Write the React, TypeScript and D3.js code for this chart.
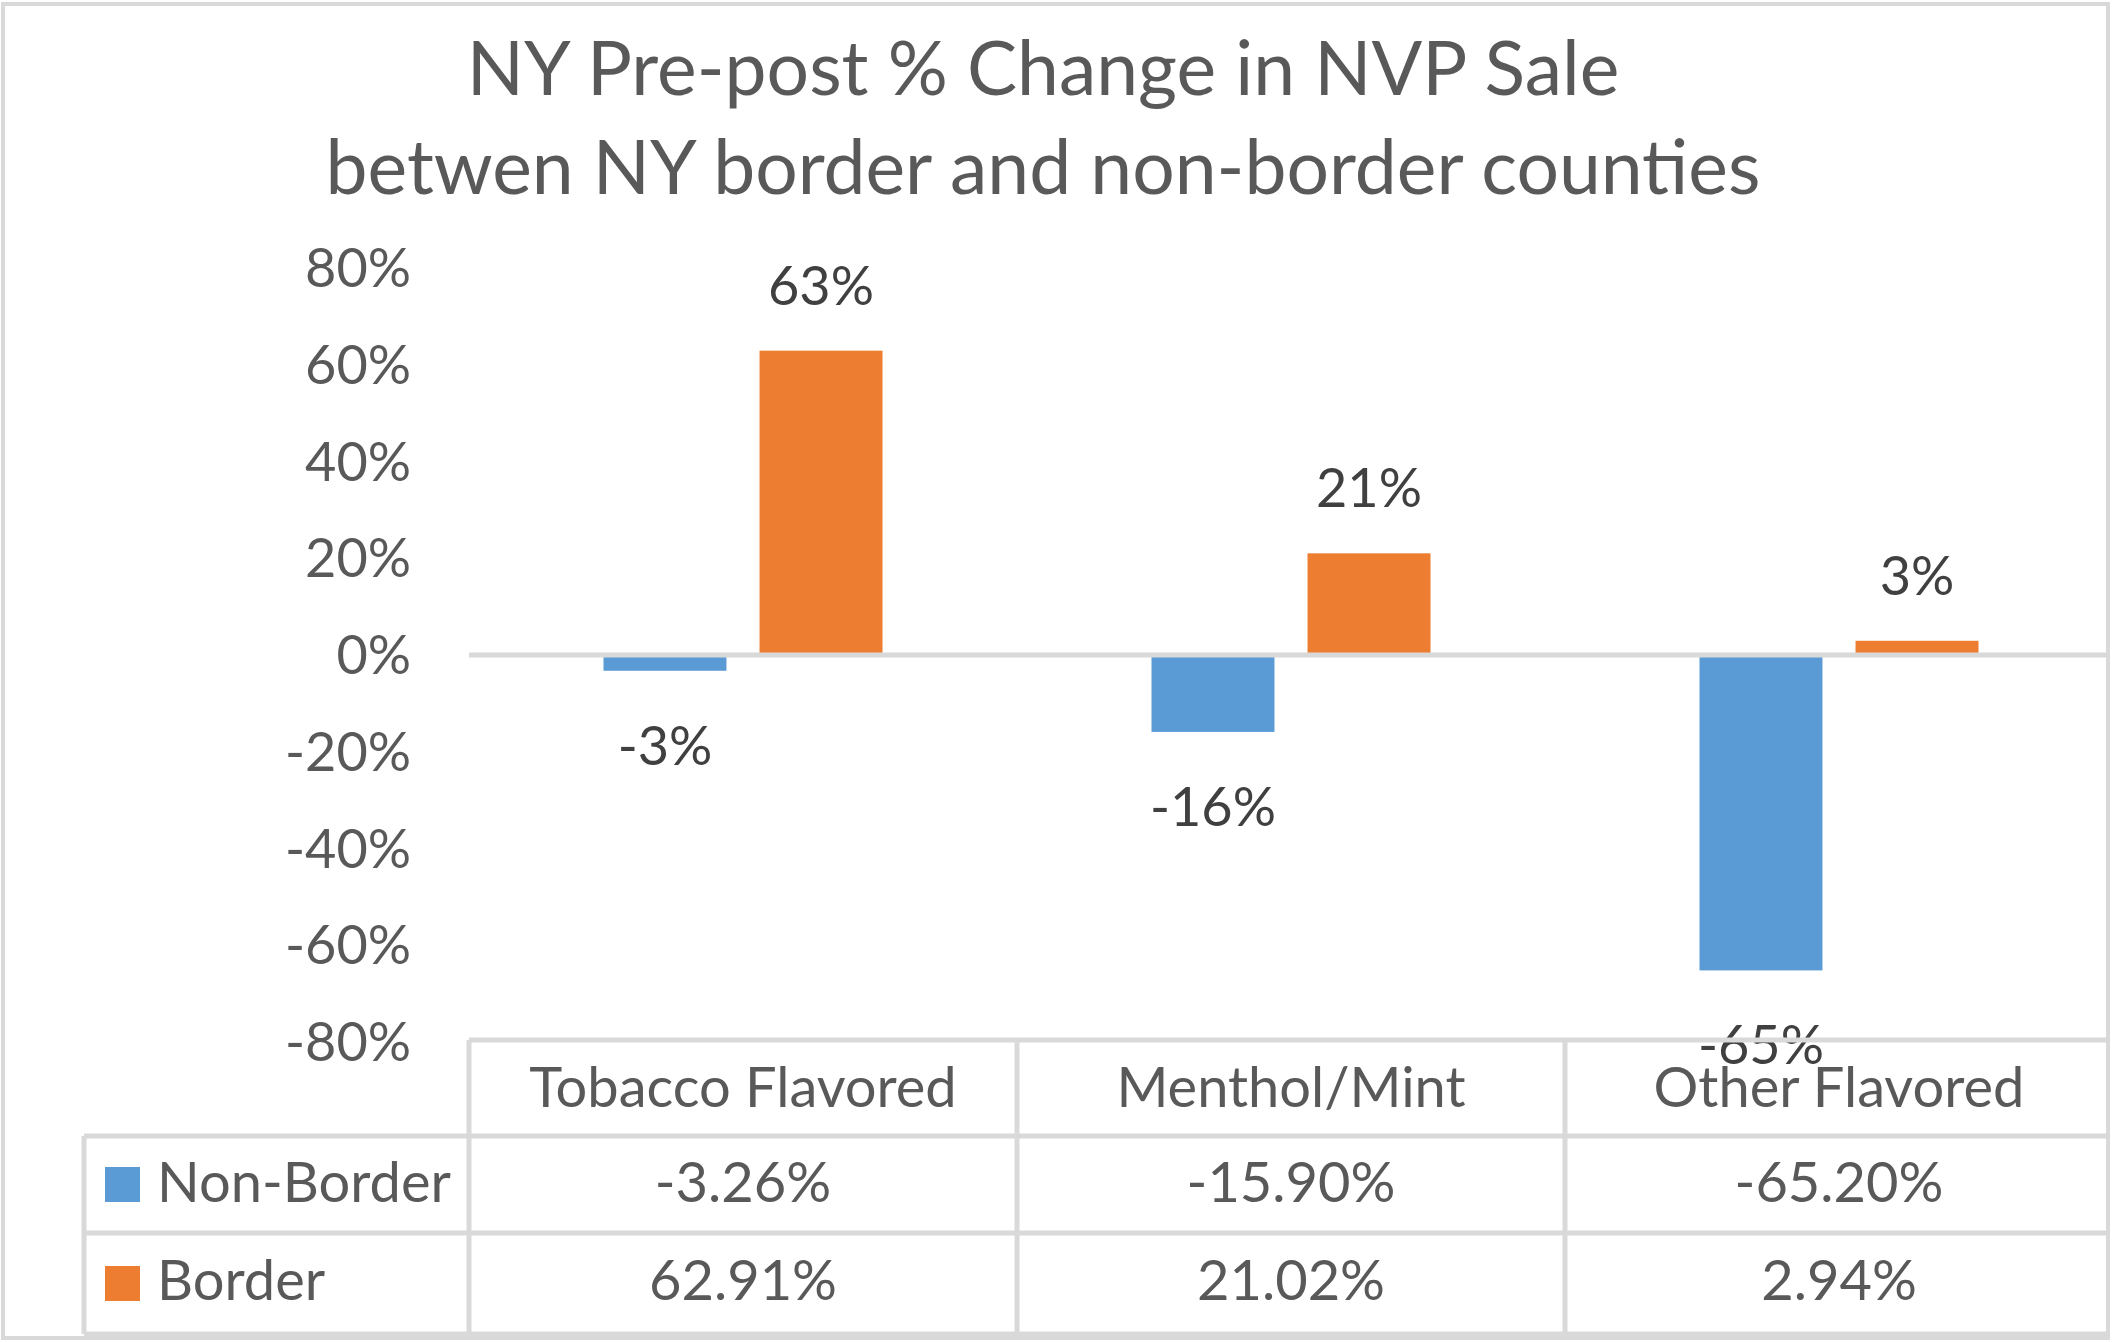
import React from "react";
import * as d3 from "d3";

const categories = ["Tobacco Flavored", "Menthol/Mint", "Other Flavored"];
const seriesNames = ["Non-Border", "Border"];
const nonBorder = [-3.26, -15.9, -65.2];
const border = [62.91, 21.02, 2.94];
const yTicks = [80, 60, 40, 20, 0, -20, -40, -60, -80];
const titleLines = ["NY Pre-post % Change in NVP Sale", "betwen NY border and non-border counties"];

const colors = ["#5b9bd5", "#ed7d31"];
const FONT = "Lato, 'Open Sans', sans-serif";
const GRID = "#d9d9d9";
const TXT = "#595959";

export default function App() {
  const W = 2113;
  const H = 1342;
  const plotLeft = 469;
  const plotRight = 2113;
  const y = d3.scaleLinear().domain([-80, 80]).range([1042, 268]);
  const x0 = d3.scaleBand<string>().domain(categories).range([plotLeft, plotRight]);
  const groupW = 279;
  const x1 = d3.scaleBand<string>().domain(seriesNames).range([0, groupW]).paddingInner(0.212);
  const off = (x0.bandwidth() - groupW) / 2;
  const series = [nonBorder, border];

  const tableTop = 1040;
  const row1 = 1136;
  const row2 = 1233;
  const tableBottom = 1334;
  const tableLeft = 84;
  const right = 2108;
  const lw = 5;
  const tfs = 56;

  return (
    <svg width={W} height={H} style={{ position: "absolute", left: 0, top: 0, background: "#fff" }} fontFamily={FONT}>
      <rect x={0} y={0} width={W} height={H} fill="#fff" />
      {/* title */}
      {titleLines.map((t, i) => (
        <text key={i} x={1043} y={95 + i * 99} textAnchor="middle" fontSize={75} fill={TXT}>
          {t}
        </text>
      ))}
      {/* y tick labels */}
      {yTicks.map((v) => (
        <text key={v} x={411} y={y(v) + 19} textAnchor="end" fontSize={54} fill={TXT}>
          {`${v}%`}
        </text>
      ))}
      {/* bars */}
      {series.map((vals, si) =>
        vals.map((v, ci) => {
          const bx = (x0(categories[ci]) as number) + off + (x1(seriesNames[si]) as number);
          const top = Math.min(y(v), y(0));
          const h = Math.abs(y(v) - y(0));
          return <rect key={`${si}-${ci}`} x={bx} y={top} width={x1.bandwidth()} height={h} fill={colors[si]} />;
        })
      )}
      {/* zero axis line */}
      <line x1={plotLeft} x2={right} y1={y(0)} y2={y(0)} stroke={GRID} strokeWidth={lw} />
      {/* data labels */}
      {series.map((vals, si) =>
        vals.map((v, ci) => {
          const cx = (x0(categories[ci]) as number) + off + (x1(seriesNames[si]) as number) + x1.bandwidth() / 2;
          const ly = v >= 0 ? y(v) - 46 : y(v) + 94;
          return (
            <text key={`l${si}-${ci}`} x={cx} y={ly} textAnchor="middle" fontSize={54} fill="#404040">
              {`${Math.round(v)}%`}
            </text>
          );
        })
      )}
      {/* data table lines */}
      <g stroke={GRID} strokeWidth={lw}>
        <line x1={plotLeft} x2={right} y1={tableTop} y2={tableTop} />
        <line x1={tableLeft} x2={right} y1={row1} y2={row1} />
        <line x1={tableLeft} x2={right} y1={row2} y2={row2} />
        <line x1={tableLeft} x2={right} y1={tableBottom} y2={tableBottom} />
        <line x1={tableLeft} x2={tableLeft} y1={row1} y2={tableBottom} />
        {categories.map((c) => (
          <line key={c} x1={x0(c) as number} x2={x0(c) as number} y1={tableTop} y2={tableBottom} />
        ))}
      </g>
      {/* header row */}
      {categories.map((c) => (
        <text key={c} x={(x0(c) as number) + x0.bandwidth() / 2} y={1107} textAnchor="middle" fontSize={tfs} fill={TXT}>
          {c}
        </text>
      ))}
      {/* value rows */}
      {series.map((vals, si) => (
        <g key={`row${si}`}>
          <rect x={105} y={si === 0 ? 1167 : 1266} width={35} height={35} fill={colors[si]} />
          <text x={157} y={si === 0 ? 1202 : 1300} fontSize={tfs} fill={TXT}>
            {seriesNames[si]}
          </text>
          {vals.map((v, ci) => (
            <text
              key={ci}
              x={(x0(categories[ci]) as number) + x0.bandwidth() / 2}
              y={si === 0 ? 1202 : 1300}
              textAnchor="middle"
              fontSize={tfs}
              fill={TXT}
            >
              {`${v.toFixed(2)}%`}
            </text>
          ))}
        </g>
      ))}
      {/* outer frame */}
      <rect x={3} y={4} width={2105} height={1334} fill="none" stroke={GRID} strokeWidth={4} />
    </svg>
  );
}
